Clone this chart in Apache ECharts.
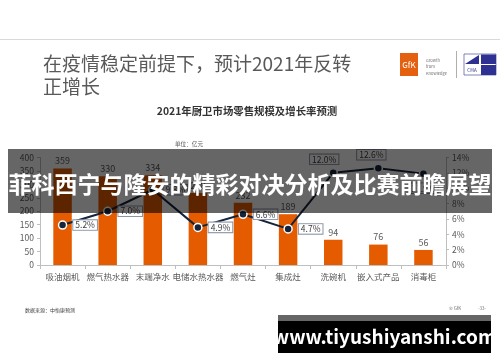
<!DOCTYPE html>
<html><head><meta charset="utf-8">
<script src="https://cdn.jsdelivr.net/npm/echarts@6/dist/echarts.min.js"></script>
<style>html,body{margin:0;padding:0;background:#fff}#c{width:500px;height:362px}</style>
</head><body><div id="c"></div>
<script>
var categories = ['吸油烟机','燃气热水器','末端净水','电储水热水器','燃气灶','集成灶','洗碗机','嵌入式产品','消毒柜'];
var salesValues = [359, 330, 334, 268, 232, 189, 94, 76, 56];
var growthValues = [5.2, 7.0, 9.8, 4.9, 6.6, 4.7, 12.0, 12.6, 11.9];
var leftTicks = [0, 400, 50];
var rightTicks = [0, 14, 2];
var titleText = '在疫情稳定前提下，预计2021年反转\n正增长';
var chartTitle = '2021年厨卫市场零售规模及增长率预测';
var unitText = '单位：亿元';
var sourceText = '数据来源：中怡康预测';
var bannerText = '菲科西宁与隆安的精彩对决分析及比赛前瞻展望';
var siteText = 'www.tiyushiyanshi.com';

var FONT = '"Noto Sans CJK SC","Noto Sans",sans-serif';
var chart = echarts.init(document.getElementById('c'), null, {renderer:'canvas'});

var labelPos = function(i){
  if (i === 6) return {position:'top', offset:[-9, 1]};
  if (i === 7) return {position:'top', offset:[-7, 1]};
  if (i === 8) return {position:'bottom', offset:[0, 0]};
  return {position:'right', offset:[1, 0]};
};
var lineData = growthValues.map(function(v, i){
  var p = labelPos(i);
  return {value: v, label: {position: p.position, offset: p.offset}};
});

var option = {
  animation: false,
  textStyle: {fontFamily: FONT},
  grid: {left: 40, right: 54, top: 157.5, bottom: 97, containLabel: false},
  xAxis: {
    type: 'category', data: categories,
    axisLine: {lineStyle: {color: '#bfbfbf'}},
    axisTick: {show: true, length: 4, lineStyle: {color: '#bfbfbf'}},
    axisLabel: {interval: 0, fontSize: 8.5, color: '#595959', margin: 8, fontFamily: FONT}
  },
  yAxis: [{
    type: 'value', min: leftTicks[0], max: leftTicks[1], interval: leftTicks[2],
    axisLine: {show: true, lineStyle: {color: '#bfbfbf'}},
    axisTick: {show: true, length: 3, lineStyle: {color: '#bfbfbf'}},
    splitLine: {show: false},
    axisLabel: {fontSize: 8.5, color: '#595959', margin: 6, fontFamily: FONT}
  }, {
    type: 'value', min: rightTicks[0], max: rightTicks[1], interval: rightTicks[2],
    axisLine: {show: true, lineStyle: {color: '#bfbfbf'}},
    axisTick: {show: true, length: 3, lineStyle: {color: '#bfbfbf'}},
    splitLine: {show: false},
    axisLabel: {fontSize: 8.5, color: '#595959', margin: 6, formatter: '{value}%', fontFamily: FONT}
  }],
  series: [{
    type: 'bar', data: salesValues, barWidth: '41%', z: 2,
    itemStyle: {color: '#E55C00'},
    label: {show: true, position: 'top', distance: 3, fontSize: 9, color: '#595959', fontFamily: FONT}
  }, {
    type: 'line', yAxisIndex: 1, data: lineData, z: 5,
    symbol: 'circle', symbolSize: 8,
    lineStyle: {color: '#15233b', width: 2},
    itemStyle: {color: '#15233b', borderColor: '#ffffff', borderWidth: 1.5},
    label: {show: true, fontSize: 8.5, color: '#404040', fontFamily: FONT,
      formatter: function(p){ return p.value.toFixed(1) + '%'; },
      backgroundColor: '#ffffff', borderColor: '#8a94a6', borderWidth: 1,
      padding: [1, 2, 0, 2]}
  }],
  graphic: [
    {type: 'line', shape: {x1: 0, y1: 39.5, x2: 500, y2: 39.5}, style: {stroke: '#d9d9d9', lineWidth: 1}},
    {type: 'text', left: 43, top: 52, style: {text: titleText, font: '19px ' + FONT, fill: '#595959', lineHeight: 23}},
    {type: 'rect', shape: {x: 400, y: 53, width: 18, height: 23}, style: {fill: '#E5600E'}},
    {type: 'text', x: 409, y: 65, style: {text: 'GfK', font: '8px ' + FONT, fill: '#ffffff', align: 'center', verticalAlign: 'middle'}},
    {type: 'text', x: 426, y: 57, style: {text: 'Growth\nfrom\nKnowledge', font: '4px ' + FONT, fill: '#707070', lineHeight: 6.5}},
    {type: 'line', shape: {x1: 456.5, y1: 51, x2: 456.5, y2: 78}, style: {stroke: '#9a9a9a', lineWidth: 0.8}},
    {type: 'rect', shape: {x: 464, y: 54, width: 32, height: 21}, style: {fill: '#ffffff', stroke: '#2e3192', lineWidth: 0.6}},
    {type: 'rect', shape: {x: 481, y: 54.5, width: 15, height: 9.5}, style: {fill: '#2e3192'}},
    {type: 'rect', shape: {x: 481, y: 65, width: 15, height: 10}, style: {fill: '#2e3192'}},
    {type: 'polygon', shape: {points: [[465, 64], [479, 55], [479, 64]]}, style: {fill: '#2e3192'}},
    {type: 'text', x: 472, y: 70, style: {text: 'CMA', font: '4.5px ' + FONT, fill: '#2e3192', align: 'center', verticalAlign: 'middle'}},
    {type: 'text', x: 247, y: 111, style: {text: chartTitle, font: 'bold 10.4px ' + FONT, fill: '#333333', align: 'center', verticalAlign: 'middle'}},
    {type: 'text', x: 189, y: 144, style: {text: unitText, font: '5.6px ' + FONT, fill: '#595959', align: 'center', verticalAlign: 'middle'}},
    {type: 'text', x: 25, y: 310, style: {text: sourceText, font: '5px ' + FONT, fill: '#404040', verticalAlign: 'middle'}},
    {type: 'text', x: 449, y: 308, style: {text: '© GfK', font: '4.5px ' + FONT, fill: '#707070', verticalAlign: 'middle'}},
    {type: 'text', x: 478, y: 308, style: {text: '-33-', font: '4.5px ' + FONT, fill: '#707070', verticalAlign: 'middle'}},
    {type: 'rect', z: 100, shape: {x: 8, y: 149, width: 484, height: 64}, style: {fill: 'rgba(0,0,0,0.6)'}},
    {type: 'text', z: 101, x: 250, y: 184, style: {text: bannerText, font: 'bold 23px ' + FONT, fill: '#ffffff', align: 'center', verticalAlign: 'middle'}},
    {type: 'rect', z: 100, shape: {x: 278, y: 315, width: 213, height: 6}, style: {fill: '#666666'}},
    {type: 'rect', z: 100, shape: {x: 278, y: 321, width: 213, height: 32}, style: {fill: '#000000'}},
    {type: 'text', z: 101, x: 384.5, y: 337, style: {text: siteText, font: 'bold 19px ' + FONT, fill: '#ffffff', align: 'center', verticalAlign: 'middle'}}
  ]
};
chart.setOption(option);
</script></body></html>
